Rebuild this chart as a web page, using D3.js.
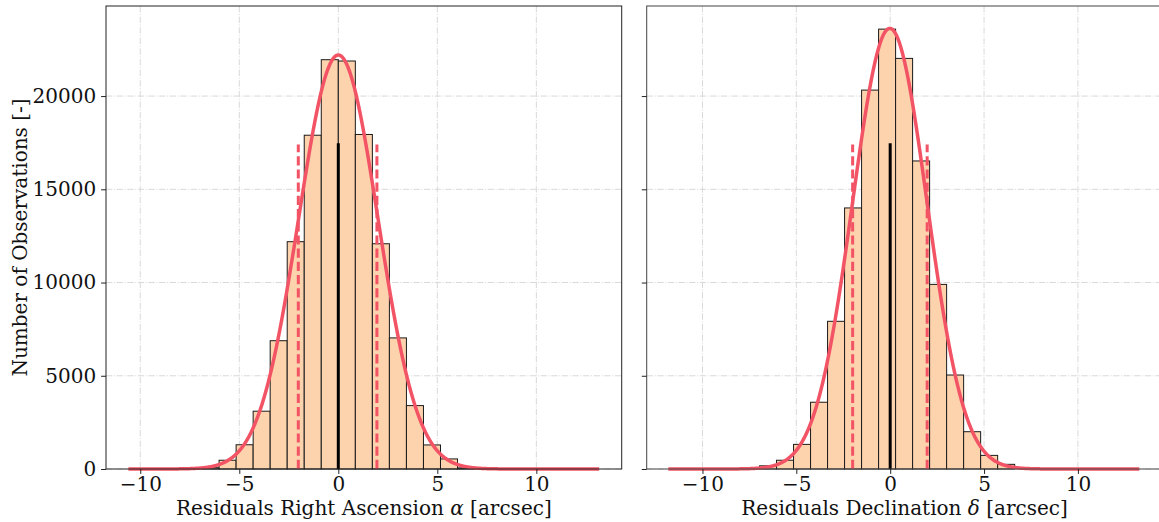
<!DOCTYPE html>
<html>
<head>
<meta charset="utf-8">
<script src="https://cdn.jsdelivr.net/npm/d3@7/dist/d3.min.js"></script>
<style>
  html, body { margin: 0; padding: 0; background: #fff; }
  svg { display: block; }
  text { font-family: "DejaVu Serif", serif; fill: #111; }
</style>
</head>
<body>
<svg id="chart" width="1159" height="522"></svg>
<script>
// ---------------- data ----------------
const xTickValues = [-10, -5, 0, 5, 10];
const yTickValues = [0, 5000, 10000, 15000, 20000];

// Right Ascension residual histogram
const raBinLeft  = [-6.88, -6.02, -5.16, -4.30, -3.44, -2.58, -1.72, -0.86, 0.00, 0.86, 1.72, 2.58, 3.44, 4.30, 5.16, 6.02];
const raBinWidth = 0.86;
const raCounts   = [70, 470, 1300, 3100, 6880, 12190, 17900, 21950, 21880, 17940, 12080, 7030, 3400, 1290, 540, 60];
const raFit      = [0.0, 2.0, 22200];       // mean, sigma, amplitude
const raFitRange = [-10.6, 13.17];
const raLines    = [-2.02, 0.0, 1.95];      // lower, median, upper

// Declination residual histogram
const decBinLeft  = [-6.96, -6.054, -5.148, -4.242, -3.336, -2.43, -1.524, -0.618, 0.288, 1.194, 2.1, 3.006, 3.912, 4.818, 5.724];
const decBinWidth = 0.906;
const decCounts   = [170, 470, 1320, 3580, 7920, 14000, 20320, 23590, 22020, 16520, 9900, 5040, 2000, 730, 250];
const decFit      = [-0.02, 1.98, 23630];
const decFitRange = [-11.82, 13.27];
const decLines    = [-2.0, 0.0, 1.97];

const medianTop = 17470;
const dashedTop = 17400;

// ---------------- layout ----------------
const svg = d3.select("#chart");
const plotTop = 6, plotBottom = 469;
const yMax = 24830;
const y = d3.scaleLinear().domain([0, yMax]).range([plotBottom, plotTop]);

const panels = [
  { left: 106, right: 621.7, domain: [-11.73, 14.31], spine: "#222",
    binLeft: raBinLeft, binWidth: raBinWidth, counts: raCounts, fit: raFit, fitRange: raFitRange, lines: raLines,
    label: ["Residuals Right Ascension ", "α", " [arcsec]"], yLabels: true },
  { left: 646.7, right: 1162.4, domain: [-12.97, 14.5], spine: "#444",
    binLeft: decBinLeft, binWidth: decBinWidth, counts: decCounts, fit: decFit, fitRange: decFitRange, lines: decLines,
    label: ["Residuals Declination ", "δ", " [arcsec]"], yLabels: false }
];

const RED = "#f25465";
const BAR = "#fdd3ae";
const fontSize = 20;

panels.forEach(p => {
  const x = d3.scaleLinear().domain(p.domain).range([p.left, p.right]);
  const g = svg.append("g");

  // grid
  const grid = g.append("g");
  grid.selectAll("line.gx").data(xTickValues).join("line")
    .attr("x1", d => x(d)).attr("x2", d => x(d))
    .attr("y1", plotTop).attr("y2", plotBottom)
    .attr("stroke", "#d9d9d9").attr("stroke-width", 1)
    .attr("stroke-dasharray", "6.4,1.6,1,1.6");
  grid.selectAll("line.gy").data(yTickValues).join("line")
    .attr("x1", p.left).attr("x2", p.right)
    .attr("y1", d => y(d)).attr("y2", d => y(d))
    .attr("stroke", "#d9d9d9").attr("stroke-width", 1)
    .attr("stroke-dasharray", "6.4,1.6,1,1.6");

  // bars
  g.append("g").selectAll("rect").data(p.counts).join("rect")
    .attr("x", (d, i) => x(p.binLeft[i]))
    .attr("width", (d, i) => x(p.binLeft[i] + p.binWidth) - x(p.binLeft[i]))
    .attr("y", d => y(d))
    .attr("height", d => y(0) - y(d))
    .attr("fill", BAR).attr("stroke", "#1a1a1a").attr("stroke-width", 1);

  // dashed bounds
  g.append("g").selectAll("line").data([p.lines[0], p.lines[2]]).join("line")
    .attr("x1", d => x(d)).attr("x2", d => x(d))
    .attr("y1", y(0)).attr("y2", y(dashedTop))
    .attr("stroke", RED).attr("stroke-width", 3)
    .attr("stroke-dasharray", "9.2,4");

  // median line
  g.append("line")
    .attr("x1", x(p.lines[1])).attr("x2", x(p.lines[1]))
    .attr("y1", y(0)).attr("y2", y(medianTop))
    .attr("stroke", "#000").attr("stroke-width", 3);

  // fitted normal curve
  const [mu, sigma, amp] = p.fit;
  const xs = d3.range(p.fitRange[0], p.fitRange[1], 0.02).concat([p.fitRange[1]]);
  const line = d3.line()
    .x(d => x(d))
    .y(d => y(amp * Math.exp(-((d - mu) ** 2) / (2 * sigma * sigma))));
  g.append("path").datum(xs).attr("d", line)
    .attr("fill", "none").attr("stroke", RED).attr("stroke-width", 3.5)
    .attr("stroke-linejoin", "round");

  // spines
  g.append("rect")
    .attr("x", p.left).attr("y", plotTop)
    .attr("width", p.right - p.left).attr("height", plotBottom - plotTop)
    .attr("fill", "none").attr("stroke", p.spine).attr("stroke-width", 1);

  // x axis
  const xAxis = d3.axisBottom(x).tickValues(xTickValues).tickSize(4.9).tickPadding(2.6)
    .tickFormat(d3.format("d"));
  const xa = g.append("g").attr("transform", `translate(0,${plotBottom})`).call(xAxis);
  xa.select(".domain").remove();
  xa.selectAll(".tick line").attr("stroke", "#222");
  xa.selectAll(".tick text").attr("font-family", "DejaVu Serif").attr("font-size", fontSize).attr("fill", "#111");

  // y axis
  const yAxis = d3.axisLeft(y).tickValues(yTickValues).tickSize(4.9).tickPadding(4.9)
    .tickFormat(p.yLabels ? d3.format("d") : () => "");
  const ya = g.append("g").attr("transform", `translate(${p.left},0)`).call(yAxis);
  ya.select(".domain").remove();
  ya.selectAll(".tick line").attr("stroke", "#222");
  ya.selectAll(".tick text").attr("font-family", "DejaVu Serif").attr("font-size", fontSize).attr("fill", "#111");

  // x label
  const xl = g.append("text")
    .attr("x", (p.left + p.right) / 2).attr("y", 515)
    .attr("text-anchor", "middle").attr("font-size", fontSize);
  xl.append("tspan").text(p.label[0]);
  xl.append("tspan").attr("font-style", "italic").text(p.label[1]);
  xl.append("tspan").text(p.label[2]);
});

// y label
svg.append("text")
  .attr("transform", `translate(27,${(plotTop + plotBottom) / 2}) rotate(-90)`)
  .attr("text-anchor", "middle").attr("font-size", fontSize)
  .text("Number of Observations [-]");
</script>
</body>
</html>
